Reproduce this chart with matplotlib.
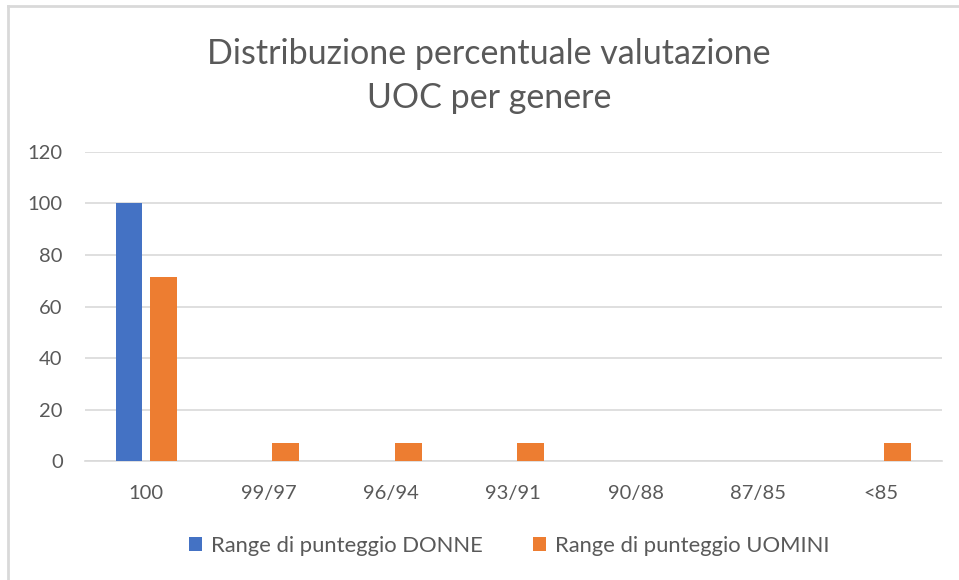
import numpy as np
import matplotlib.pyplot as plt
from matplotlib.lines import Line2D

plt.rcParams['font.family'] = ['Lato', 'DejaVu Sans']

categories = ['100', '99/97', '96/94', '93/91', '90/88', '87/85', '<85']
donne = [100, 0, 0, 0, 0, 0, 0]
uomini = [71.4, 7.1, 7.1, 7.1, 0, 0, 7.1]
yticks = [0, 20, 40, 60, 80, 100, 120]

blue = '#4472c4'
orange = '#ed7d31'
grey = '#595959'
grid = '#d9d9d9'

fig = plt.figure(figsize=(9.59, 5.80), dpi=100)
ax = fig.add_axes([0.0886, 0.205, 0.8934, 0.533])

x = np.arange(len(categories))
w = 0.22
ax.bar(x - 0.14, donne, w, color=blue, label='Range di punteggio DONNE', zorder=3)
ax.bar(x + 0.14, uomini, w, color=orange, label='Range di punteggio UOMINI', zorder=3)

ax.set_xlim(-0.5, len(categories) - 0.5)
ax.set_ylim(0, 120)
ax.set_yticks(yticks)
ax.set_xticks(x)
ax.set_xticklabels(categories)
ax.yaxis.grid(True, color=grid, lw=1.2, zorder=0)
ax.tick_params(length=0, labelsize=14.5, colors=grey)
ax.tick_params(axis='x', pad=17)
ax.tick_params(axis='y', pad=16)
for s in ['top', 'right', 'left']:
    ax.spines[s].set_visible(False)
ax.spines['bottom'].set_color(grid)
ax.spines['bottom'].set_linewidth(1.2)

fig.text(0.51, 0.869, 'Distribuzione percentuale valutazione\nUOC per genere',
         ha='center', va='center', fontsize=24.5, color=grey, linespacing=1.45)

ax.legend(loc='center', bbox_to_anchor=(0.495, -0.275), ncol=2, frameon=False,
          fontsize=15.8, labelcolor=grey, handlelength=0.6, handleheight=0.6,
          handletextpad=0.4, columnspacing=2.3)

# outer frame of the chart
fig.add_artist(Line2D([8 / 959, 8 / 959], [0, 1 - 6 / 580], color=grid, lw=2))
fig.add_artist(Line2D([8 / 959, 1], [1 - 6 / 580, 1 - 6 / 580], color=grid, lw=2))

fig.savefig('out.png', dpi=100)
